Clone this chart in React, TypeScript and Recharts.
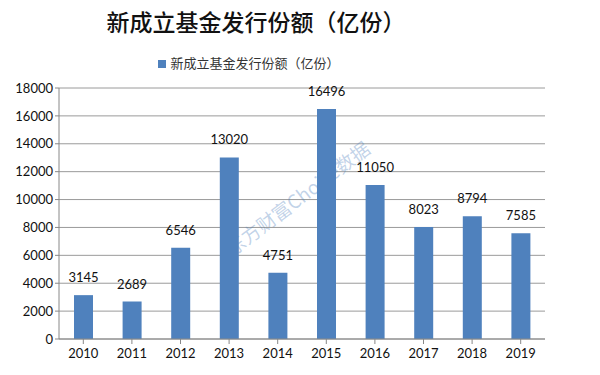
import React from 'react'
import { BarChart, Bar, XAxis, YAxis, CartesianGrid, Legend, LabelList } from 'recharts'

const years = ['2010', '2011', '2012', '2013', '2014', '2015', '2016', '2017', '2018', '2019']
const shares = [3145, 2689, 6546, 13020, 4751, 16496, 11050, 8023, 8794, 7585]
const yTicks = [0, 2000, 4000, 6000, 8000, 10000, 12000, 14000, 16000, 18000]

const data = years.map((year, i) => ({ year, shares: shares[i] }))

const cjk = '"Noto Sans CJK SC", "Noto Sans", sans-serif'
const num = 'Lato, "Open Sans", sans-serif'

export default function App() {
  return (
    <div style={{ position: 'relative', width: 600, height: 375, background: '#fff', overflow: 'hidden' }}>
      <style>{'body{margin:0}'}</style>
      <div
        style={{
          position: 'absolute', top: 4, left: 0, width: 512, textAlign: 'center',
          fontFamily: cjk, fontSize: 23, fontWeight: 500, color: '#111',
        }}
      >
        新成立基金发行份额（亿份）
      </div>
      <div style={{ position: 'absolute', top: 45, left: 0 }}>
        <BarChart width={600} height={324} data={data} margin={{ top: 0, right: 55, bottom: 0, left: 0 }}>
          <Legend
            verticalAlign="top"
            align="center"
            iconType="square"
            iconSize={8}
            height={43}
            wrapperStyle={{ fontFamily: cjk, fontSize: 13, color: '#333', top: 8, left: 0, width: 508 }}
            formatter={() => <span style={{ color: '#333' }}>新成立基金发行份额（亿份）</span>}
          />
          <CartesianGrid vertical={false} stroke="#9a9a9a" />
          <XAxis
            dataKey="year"
            stroke="#888"
            tickSize={5}
            tick={{ fill: '#111', fontSize: 13, fontFamily: num }}
            tickMargin={5}
            interval={0}
          />
          <YAxis
            domain={[0, 18000]}
            ticks={yTicks}
            width={59}
            stroke="#888"
            tickSize={4}
            tick={{ fill: '#111', fontSize: 13, fontFamily: num }}
            interval={0}
          />
          <Bar dataKey="shares" name="新成立基金发行份额（亿份）" fill="#4f81bd" barSize={19} isAnimationActive={false}>
            <LabelList dataKey="shares" position="top" offset={13} style={{ fill: '#111', fontSize: 13, fontFamily: num }} />
          </Bar>
        </BarChart>
      </div>
      <div
        style={{
          position: 'absolute', left: 210, top: 184, transform: 'rotate(-37deg)',
          fontFamily: cjk, fontSize: 19, color: 'rgba(79,129,189,0.35)', whiteSpace: 'nowrap',
        }}
      >
        东方财富Choice数据
      </div>
    </div>
  )
}
